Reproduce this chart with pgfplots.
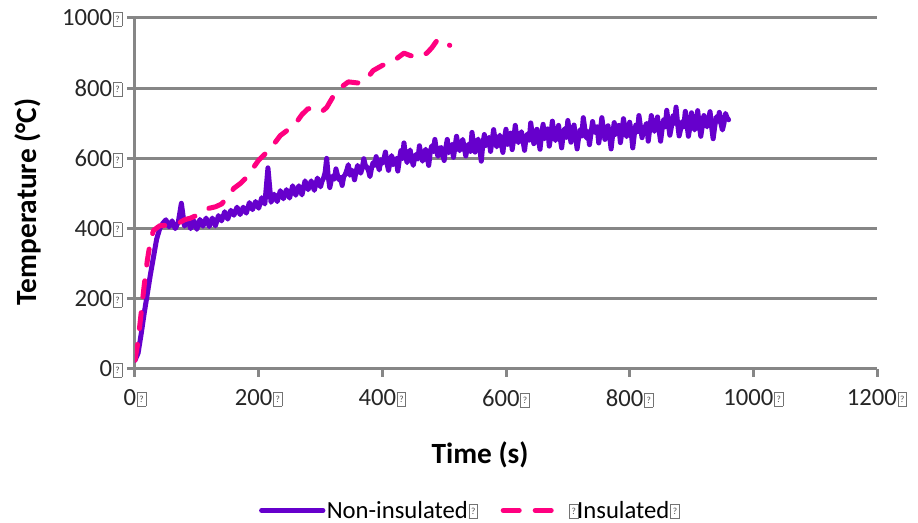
\documentclass[border=0pt]{standalone}
\usepackage{pgfplots}
\pgfplotsset{compat=1.18}
\usepackage{fontspec}
\setmainfont{Carlito}

\definecolor{nonins}{RGB}{102,0,204}
\definecolor{ins}{RGB}{255,0,128}
\definecolor{gridgray}{RGB}{134,134,134}

% small framed placeholder glyph that follows each label
\newcommand\qb{\kern0.6pt\raisebox{-0.3pt}{\color{black!55}\setlength\fboxsep{0pt}\setlength\fboxrule{0.5pt}\fbox{\vbox to 10pt{\vss\hbox to 6pt{\hss\color{black!70}\fontsize{7}{7}\selectfont ?\hss}\vss}}}}

\begin{document}
\begin{tikzpicture}
\useasboundingbox (0,0) rectangle (688.5pt,392.25pt);
\begin{axis}[
  at={(101.25pt,115.5pt)}, anchor=south west,
  scale only axis, width=556.5pt, height=263.25pt,
  xmin=0, xmax=1200, ymin=0, ymax=1000,
  axis x line=bottom, axis y line=left,
  axis line style={-, gridgray, line width=2.25pt},
  ymajorgrids, grid style={gridgray, line width=2.25pt},
  tick align=outside, major tick length=6pt,
  every tick/.style={gridgray, line width=2.25pt},
  xtick={0,200,400,600,800,1000,1200},
  xticklabels={0\qb,200\qb,400\qb,600\qb,800\qb,1000\qb,1200\qb},
  ytick={0,200,400,600,800,1000},
  yticklabels={0\qb,200\qb,400\qb,600\qb,800\qb,1000\qb},
  tick label style={font=\fontsize{18.5}{20}\selectfont, text=black!85},
  xticklabel style={yshift=-6pt},
  xlabel={\textbf{Time (s)}},
  ylabel={\textbf{Temperature (°C)}},
  label style={font=\fontsize{22}{24}\selectfont},
  xlabel style={at={(axis description cs:0.465,-0.245)}, anchor=center},
  ylabel style={at={(axis description cs:-0.144,0.476)}, anchor=center},
  legend columns=2,
  legend style={at={(axis description cs:0.4515,-0.403)}, anchor=center, draw=none,
    font=\fontsize{18.5}{20}\selectfont, nodes={inner sep=1pt},
    /tikz/every even column/.append style={column sep=16pt}},
  legend image code/.code={\draw[#1] (0pt,0pt) -- (46pt,0pt);},
]
% thermocouple reading without insulation
\addplot[nonins, line width=3.75pt, line join=round, line cap=round] coordinates {
(0,25) (5,45) (10,100) (15,160) (20,215) (25,270) (30,320) (35,370) (40,400) (45,415)
(50,425) (55,405) (60,422) (65,400) (70,418) (75,472) (80,407) (85,427) (90,400) (95,423)
(100,398) (105,426) (110,407) (115,430) (120,406) (125,430) (130,408) (135,437) (140,422) (145,448)
(150,427) (155,452) (160,438) (165,461) (170,440) (175,461) (180,444) (185,474) (190,454) (195,477)
(200,458) (205,488) (210,470) (215,573) (220,475) (225,498) (230,477) (235,508) (240,485) (245,511)
(250,487) (255,522) (260,495) (265,522) (270,496) (275,536) (280,511) (285,536) (290,509) (295,544)
(300,519) (302.5,535) (305,544) (307.5,560) (310,600) (312.5,548) (315,517) (317.5,538) (320,550) (322.5,541)
(325,570) (327.5,552) (330,539) (332.5,546) (335,523) (337.5,548) (340,554) (342.5,566) (345,582) (347.5,552)
(350,567) (352.5,560) (355,539) (357.5,562) (360,580) (362.5,566) (365,558) (367.5,572) (370,599) (372.5,580)
(375,575) (377.5,566) (380,548) (382.5,572) (385,588) (387.5,580) (390,605) (392.5,584) (395,567) (397.5,596)
(400,586) (402.5,598) (405,618) (407.5,586) (410,566) (412.5,590) (415,608) (417.5,582) (420,592) (422.5,600)
(425,564) (427.5,596) (430,622) (432.5,600) (435,644) (437.5,608) (440,588) (442.5,610) (445,624) (447.5,598)
(450,580) (452.5,602) (455,612) (457.5,598) (460,636) (462.5,610) (465,592) (467.5,612) (470,626) (472.5,604)
(475,580) (477.5,618) (480,636) (482.5,620) (485,654) (487.5,622) (490,606) (492.5,628) (495,631) (497.5,612)
(500,594) (502.5,628) (505,654) (507.5,616) (510,628) (512.5,640) (515,603) (517.5,632) (520,663) (522.5,636)
(525,622) (527.5,640) (530,654) (532.5,630) (535,607) (537.5,632) (540,641) (542.5,620) (545,674) (547.5,640)
(550,618) (552.5,646) (555,655) (557.5,630) (560,592) (562.5,640) (565,668) (567.5,636) (570,647) (572.5,660)
(575,620) (577.5,650) (580,682) (582.5,650) (585,633) (587.5,652) (590,666) (592.5,640) (595,617) (597.5,656)
(600,683) (602.5,640) (605,658) (607.5,672) (610,625) (612.5,656) (615,694) (617.5,660) (620,645) (622.5,664)
(625,676) (627.5,650) (630,623) (632.5,660) (635,670) (637.5,652) (640,701) (642.5,668) (645,642) (647.5,664)
(650,683) (652.5,652) (655,626) (657.5,668) (660,697) (662.5,656) (665,666) (667.5,684) (670,635) (672.5,666)
(675,706) (677.5,670) (680,651) (682.5,670) (685,694) (687.5,660) (690,630) (692.5,668) (695,685) (697.5,660)
(700,708) (702.5,676) (705,646) (707.5,672) (710,695) (712.5,662) (715,627) (717.5,660) (720,682) (722.5,664)
(725,716) (727.5,684) (730,658) (732.5,676) (735,639) (737.5,672) (740,705) (742.5,680) (745,673) (747.5,690)
(750,644) (752.5,676) (755,716) (757.5,684) (760,654) (762.5,672) (765,693) (767.5,664) (770,627) (772.5,668)
(775,702) (777.5,668) (780,680) (782.5,694) (785,645) (787.5,676) (790,713) (792.5,684) (795,662) (797.5,680)
(800,703) (802.5,674) (805,630) (807.5,668) (810,695) (812.5,676) (815,722) (817.5,690) (820,659) (822.5,680)
(825,690) (827.5,700) (830,649) (832.5,684) (835,722) (837.5,694) (840,677) (842.5,696) (845,718) (847.5,680)
(850,649) (852.5,684) (855,710) (857.5,690) (860,737) (862.5,700) (865,666) (867.5,690) (870,721) (872.5,700)
(875,746) (877.5,700) (880,664) (882.5,684) (885,705) (887.5,690) (890,734) (892.5,700) (895,663) (897.5,690)
(900,730) (902.5,704) (905,681) (907.5,700) (910,736) (912.5,696) (915,663) (917.5,692) (920,722) (922.5,700)
(925,690) (927.5,712) (930,733) (932.5,690) (935,656) (937.5,690) (940,718) (942.5,706) (945,731) (947.5,700)
(950,681) (952.5,700) (955,728) (957.5,716) (960,710)
};
\addlegendentry{Non-insulated\qb}
% thermocouple reading with insulation
\addplot[ins, line width=3.75pt, line cap=round, line join=round, dash pattern=on 12pt off 12pt] coordinates {
(0,25) (5,80) (10,160) (15,240) (20,310) (25,365) (30,395) (40,408) (55,410) (70,415)
(80,425) (90,430) (100,438) (110,450) (120,458) (130,462) (140,470) (150,490) (160,515) (170,528)
(180,545) (190,570) (200,595) (210,612) (220,630) (235,665) (250,685) (260,700) (270,725) (280,742)
(290,735) (300,730) (310,745) (320,775) (335,805) (345,818) (360,815) (372,820) (385,850) (400,865)
(420,880) (435,900) (445,893) (460,888) (472,900) (480,915) (490,940) (500,933) (509,922)
};
\addlegendentry{\qb\kern-1pt Insulated\qb}
\end{axis}
\end{tikzpicture}
\end{document}
